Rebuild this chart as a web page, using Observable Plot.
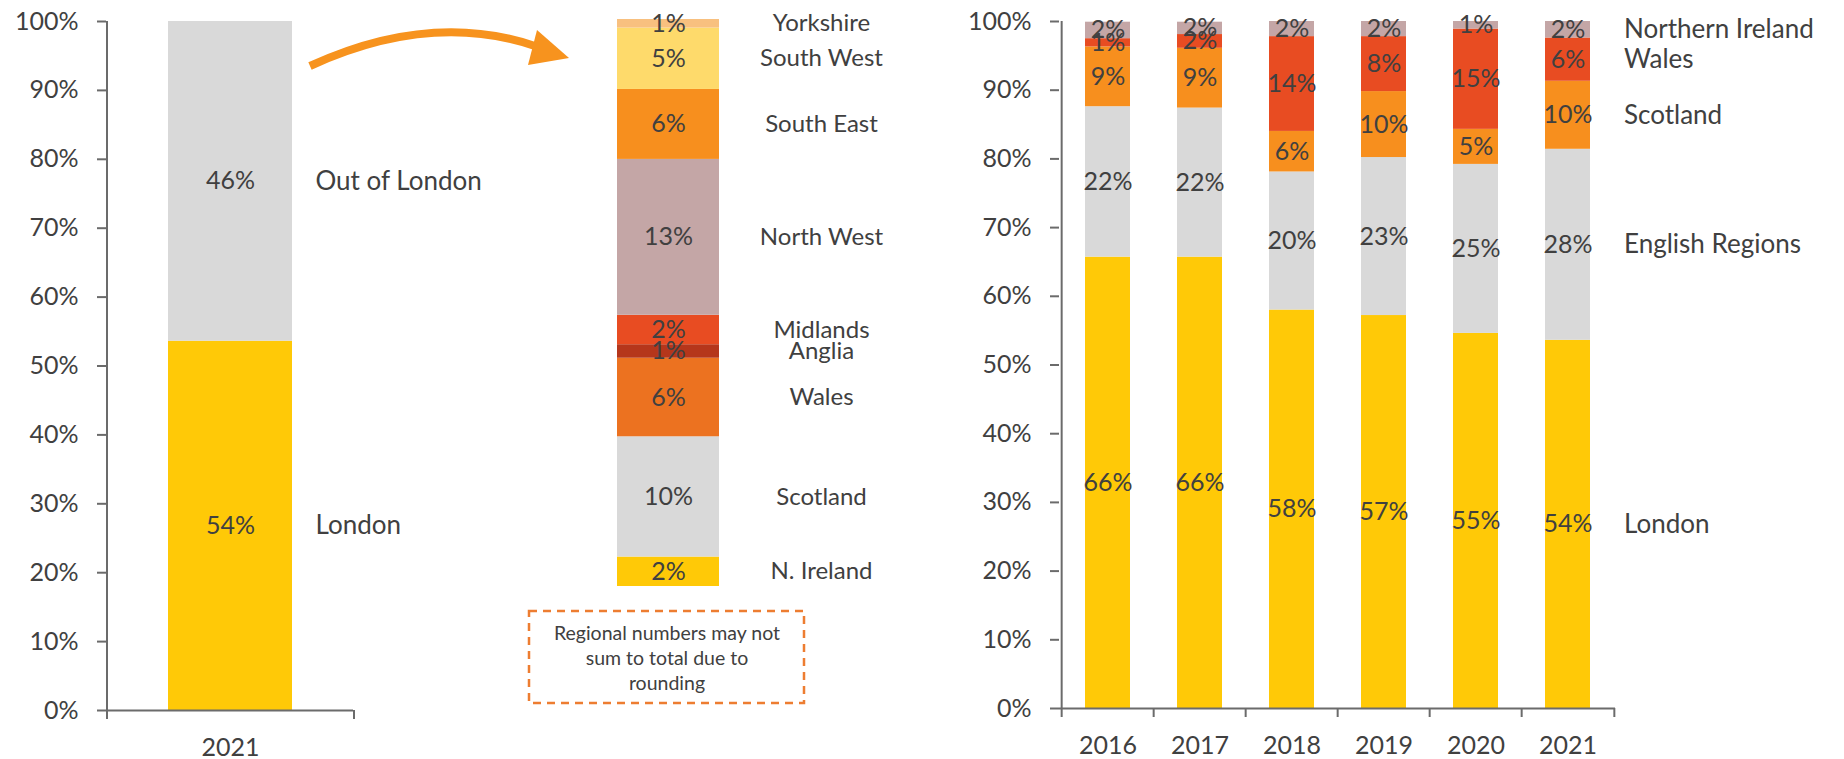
<!DOCTYPE html>
<html>
<head>
<meta charset="utf-8">
<script src="https://cdn.jsdelivr.net/npm/d3@7"></script>
<script src="https://cdn.jsdelivr.net/npm/@observablehq/plot@0.6"></script>
<style>
  html, body { margin: 0; padding: 0; background: #fff; }
  #wrap { position: relative; width: 1844px; height: 759px; overflow: hidden; font-family: Lato, "Open Sans", sans-serif; }
  #wrap > svg { position: absolute; left: 0; top: 0; }
</style>
</head>
<body>
<div id="wrap"></div>
<script>
// ---------- DATA ----------
// Left panel: 2021 split
const leftCategories = ["London", "Out of London"];
const leftValues = [53.6, 46.4];
const leftColors = ["#FFC907", "#D9D9D9"];
const leftYear = ["2021"];

// Middle panel: regional breakdown of "Out of London" (bottom to top)
const regions = ["N. Ireland", "Scotland", "Wales", "Anglia", "Midlands", "North West", "South East", "South West", "Yorkshire"];
const regionValues = [2.4, 9.8, 6.4, 1.1, 2.4, 12.7, 5.7, 5.0, 0.7];
const regionColors = ["#FFC907", "#D9D9D9", "#EC7220", "#B5361B", "#E84C22", "#C4A6A6", "#F78F1E", "#FEDA6B", "#F8C07F"];

// Right panel: yearly split (bottom to top)
const years = ["2016", "2017", "2018", "2019", "2020", "2021"];
const seriesNames = ["London", "English Regions", "Scotland", "Wales", "Northern Ireland"];
const london          = [65.7, 65.7, 58.0, 57.2, 54.6, 53.6];
const englishRegions  = [21.9, 21.7, 20.1, 23.0, 24.6, 27.8];
const scotland        = [8.7, 8.7, 5.9, 9.6, 5.1, 9.9];
const wales           = [1.2, 2.0, 13.8, 8.0, 14.6, 6.3];
const northernIreland = [2.4, 1.8, 2.2, 2.2, 1.1, 2.4];
const seriesColors = ["#FFC907", "#D9D9D9", "#F78F1E", "#E84C22", "#C4A6A6"];

const yTicks = [0, 10, 20, 30, 40, 50, 60, 70, 80, 90, 100];
const noteLines = ["Regional numbers may not", "sum to total due to", "rounding"];

// ---------- SETUP ----------
const W = 1844, H = 759;
const FONT = "Lato, 'Open Sans', sans-serif";
const TXT = "#404040";
const AX = "#6b6b6b";
const FS = 25;     // tick + value labels
const LFS = 26;    // category labels
const pct = v => Math.round(v) + "%";
const wrap = document.getElementById("wrap");
const baseStyle = {fontFamily: FONT, fontSize: FS + "px", color: TXT, background: "transparent", overflow: "visible"};

// ---------- LEFT ----------
{
  const data = leftCategories.map((c, i) => ({year: leftYear[0], cat: c, value: leftValues[i]}));
  const fl = 106, fr = 353, ft = 21, fb = 710;
  const step = fr - fl;
  const pi = 0.498;
  const chart = Plot.plot({
    width: W, height: H,
    marginLeft: fl, marginRight: W - fr, marginTop: ft, marginBottom: H - fb,
    style: baseStyle,
    x: {type: "band", domain: leftYear, paddingInner: pi, paddingOuter: pi / 2},
    y: {domain: [0, 100]},
    color: {domain: leftCategories, range: leftColors},
    marks: [
      Plot.barY(data, Plot.stackY({x: "year", y: "value", z: "cat", fill: "cat"})),
      Plot.text(data, Plot.stackY({x: "year", y: "value", z: "cat", text: d => pct(d.value), fill: TXT, fontSize: FS})),
      Plot.text(data, Plot.stackY({x: "year", y: "value", z: "cat", text: "cat", fill: TXT, fontSize: LFS, textAnchor: "start", dx: 85})),
      Plot.axisY({ticks: yTicks, tickFormat: d => d + "%", tickSize: 9, tickPadding: 19, stroke: AX, strokeWidth: 2, fill: TXT, fontSize: FS, label: null}),
      Plot.ruleX(leftYear, {x: d => d, dx: -step / 2, y1: 0, y2: 100, stroke: AX, strokeWidth: 2}),
      Plot.ruleY([0], {stroke: AX, strokeWidth: 2}),
      Plot.axisX({ticks: leftYear, tickSize: 9, tickFormat: () => "", dx: -step / 2, stroke: AX, strokeWidth: 2, label: null}),
      Plot.axisX({ticks: leftYear, tickSize: 9, tickFormat: () => "", dx: step / 2, stroke: AX, strokeWidth: 2, label: null}),
      Plot.axisX({ticks: leftYear, tickSize: 0, tickPadding: 28, fill: TXT, fontSize: FS, label: null})
    ]
  });
  wrap.appendChild(chart);
}

// ---------- MIDDLE ----------
{
  const data = regions.map((r, i) => ({grp: "Out of London", region: r, value: regionValues[i]}));
  const fl = 617, fr = 719, ft = 19, fb = 586;
  const chart = Plot.plot({
    width: W, height: H,
    marginLeft: fl, marginRight: W - fr, marginTop: ft, marginBottom: H - fb,
    style: baseStyle,
    x: {type: "band", domain: ["Out of London"], padding: 0, axis: null},
    y: {domain: [0, d3.sum(regionValues)], axis: null},
    color: {domain: regions, range: regionColors},
    marks: [
      Plot.barY(data, Plot.stackY({x: "grp", y: "value", z: "region", fill: "region"})),
      Plot.text(data, Plot.stackY({x: "grp", y: "value", z: "region", text: d => pct(d.value), fill: TXT, fontSize: FS})),
      Plot.text(data, Plot.stackY({x: "grp", y: "value", z: "region", text: "region", fill: TXT, fontSize: 24, textAnchor: "middle", dx: 153}))
    ]
  });
  wrap.appendChild(chart);
}

// ---------- RIGHT ----------
{
  const cols = [london, englishRegions, scotland, wales, northernIreland];
  const data = years.flatMap((y, i) => seriesNames.map((s, j) => ({year: y, series: s, value: cols[j][i]})));
  const fl = 1059, fr = 1615, ft = 21, fb = 708;
  const step = (fr - fl) / years.length;
  const pi = 0.514;
  const last = [years[years.length - 1]];
  const chart = Plot.plot({
    width: W, height: H,
    marginLeft: fl, marginRight: W - fr, marginTop: ft, marginBottom: H - fb,
    style: baseStyle,
    x: {type: "band", domain: years, paddingInner: pi, paddingOuter: pi / 2},
    y: {domain: [0, 100]},
    color: {domain: seriesNames, range: seriesColors},
    marks: [
      Plot.barY(data, Plot.stackY({x: "year", y: "value", z: "series", fill: "series"})),
      Plot.text(data, Plot.stackY({x: "year", y: "value", z: "series", text: d => pct(d.value), fill: TXT, fontSize: FS})),
      Plot.text(data, Plot.stackY({filter: d => d.year === last[0], x: "year", y: "value", z: "series", text: "series", fill: TXT, fontSize: LFS, textAnchor: "start", dx: 56})),
      Plot.axisY({ticks: yTicks, tickFormat: d => d + "%", tickSize: 9, tickPadding: 19, stroke: AX, strokeWidth: 2, fill: TXT, fontSize: FS, label: null}),
      Plot.ruleX([years[0]], {x: d => d, dx: -step / 2, y1: 0, y2: 100, stroke: AX, strokeWidth: 2}),
      Plot.ruleY([0], {stroke: AX, strokeWidth: 2}),
      Plot.axisX({ticks: years, tickSize: 9, tickFormat: () => "", dx: -step / 2, stroke: AX, strokeWidth: 2, label: null}),
      Plot.axisX({ticks: last, tickSize: 9, tickFormat: () => "", dx: step / 2, stroke: AX, strokeWidth: 2, label: null}),
      Plot.axisX({ticks: years, tickSize: 0, tickPadding: 28, fill: TXT, fontSize: FS, label: null})
    ]
  });
  wrap.appendChild(chart);
}

// ---------- DECORATIONS (arrow + note box) ----------
{
  const svg = d3.create("svg").attr("width", W).attr("height", H).style("overflow", "visible");
  svg.append("path")
    .attr("d", "M310,66 Q432,10 538,47")
    .attr("fill", "none").attr("stroke", "#F7931E").attr("stroke-width", 8);
  svg.append("polygon")
    .attr("points", "537,30 569,58 528,65")
    .attr("fill", "#F7931E");
  svg.append("rect")
    .attr("x", 529).attr("y", 611).attr("width", 275).attr("height", 92)
    .attr("fill", "none").attr("stroke", "#ED7D31").attr("stroke-width", 2.5)
    .attr("stroke-dasharray", "8,6");
  svg.append("g").selectAll("text").data(noteLines).join("text")
    .attr("x", 667).attr("y", (d, i) => 633 + i * 25)
    .attr("text-anchor", "middle").attr("dy", "0.35em")
    .attr("font-family", FONT).attr("font-size", 19.5).attr("fill", TXT)
    .text(d => d);
  wrap.appendChild(svg.node());
}
</script>
</body>
</html>
